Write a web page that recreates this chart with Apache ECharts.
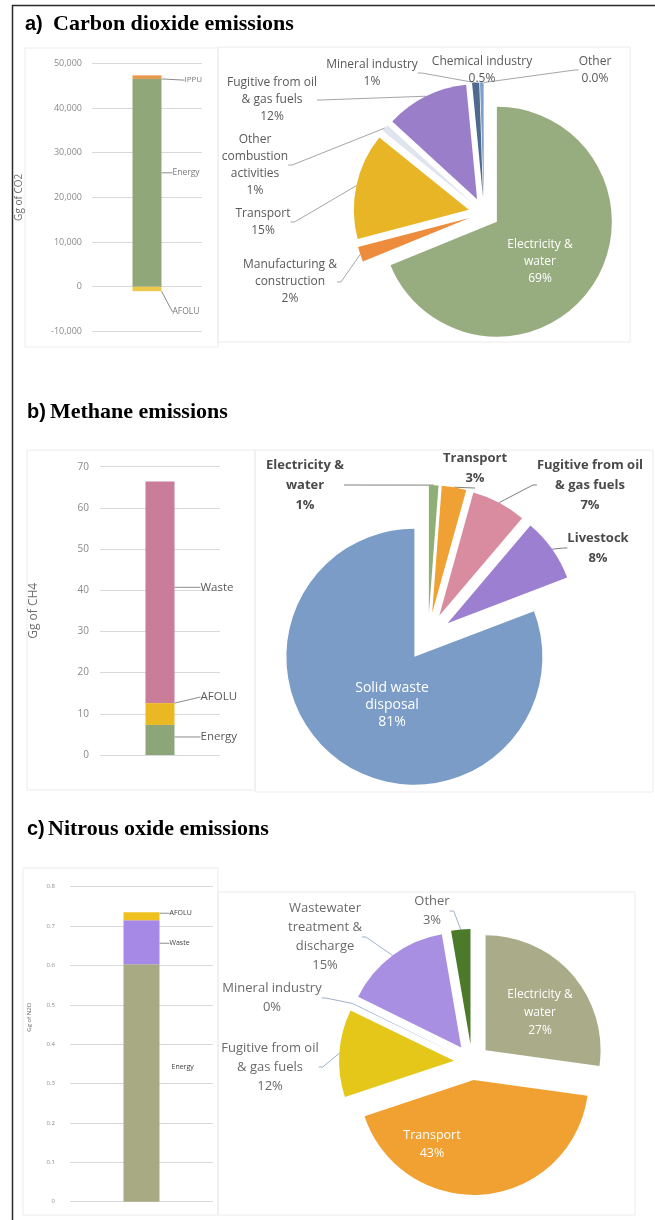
<!DOCTYPE html>
<html>
<head>
<meta charset="utf-8">
<script src="https://cdn.jsdelivr.net/npm/echarts@6/dist/echarts.min.js"></script>
<style>
html,body{margin:0;padding:0;background:#ffffff;}
#chart{width:655px;height:1220px;}
</style>
</head>
<body>
<div id="chart"></div>
<script>
// ---------------- DATA ----------------
// a) Carbon dioxide (Gg of CO2)
const co2Category = ['CO2'];
const co2Energy = [46500];
const co2IPPU = [800];
const co2AFOLU = [-1000];
const co2PieNames = ['Electricity &\nwater', 'Manufacturing &\nconstruction', 'Transport', 'Other\ncombustion\nactivities', 'Fugitive from oil\n& gas fuels', 'Mineral industry', 'Chemical industry', 'Other'];
const co2PieValues = [68.9, 2.1, 14.9, 1.0, 11.7, 1.0, 0.5, 0.02];

// b) Methane (Gg of CH4)
const ch4Category = ['CH4'];
const ch4Energy = [7.3];
const ch4AFOLU = [5.3];
const ch4Waste = [53.8];
const ch4PieNames = ['Electricity &\nwater', 'Transport', 'Fugitive from oil\n& gas fuels', 'Livestock', 'Solid waste\ndisposal'];
const ch4PieValues = [1.2, 3.1, 6.9, 8.0, 80.8];

// c) Nitrous oxide (Gg of N2O)
const n2oCategory = ['N2O'];
const n2oEnergy = [0.603];
const n2oWaste = [0.112];
const n2oAFOLU = [0.02];
const n2oPieNames = ['Electricity &\nwater', 'Transport', 'Fugitive from oil\n& gas fuels', 'Mineral industry', 'Wastewater\ntreatment &\ndischarge', 'Other'];
const n2oPieValues = [27.2, 42.7, 12.3, 0.1, 15.0, 2.7];

// ---------------- STYLES ----------------
const co2PieColors = ['#98ad7f', '#ec8c3c', '#e7b526', '#dfe4ee', '#9b7ec9', '#506a8e', '#7e9fca', '#b0b0b0'];
const ch4PieColors = ['#8fae78', '#f0a133', '#d98c9f', '#9c7fd0', '#7b9cc7'];
const n2oPieColors = ['#a9ab89', '#f0a132', '#e4c718', '#6a8fc4', '#a98fe2', '#4c7a2b'];

const SANS = '"Liberation Sans", Arial, sans-serif';
const SERIF = '"Liberation Serif", "Times New Roman", serif';
const LBL = '"Open Sans", "Liberation Sans", sans-serif';

const chart = echarts.init(document.getElementById('chart'), null, {renderer: 'canvas', width: 655, height: 1220});

function yAxisCfg(grid, min, max, interval, name, fontSize, nameGap, nameSize, fmt, margin, namePad) {
  return {
    type: 'value', gridIndex: grid, min: min, max: max, interval: interval,
    name: name, nameLocation: 'middle', nameRotate: 90, nameGap: nameGap,
    nameTextStyle: {fontFamily: LBL, fontSize: nameSize, color: '#6f6f6f', padding: namePad || 0},
    axisLine: {show: false}, axisTick: {show: false},
    axisLabel: {fontFamily: LBL, fontSize: fontSize, color: '#8a8a8a', margin: margin, formatter: fmt},
    splitLine: {show: true, lineStyle: {color: '#d9d9d9', width: 1}}
  };
}

function barSeries(name, values, color, grid, barWidth, lbl) {
  return {
    type: 'bar', name: name, xAxisIndex: grid, yAxisIndex: grid, stack: 'g' + grid,
    data: values, barWidth: barWidth, itemStyle: {color: color},
    emphasis: {disabled: true},
    label: {show: true, position: 'right', distance: 0, formatter: name,
      fontFamily: LBL, fontSize: lbl.size, color: lbl.color},
    labelLayout: {dx: lbl.dx, dy: lbl.dy},
    labelLine: {show: lbl.line !== false, length2: 0, lineStyle: {color: lbl.lineColor || '#8c8c8c', width: 1}}
  };
}

function fmtPct(decimalsBelowOne) {
  return function (v) {
    if (decimalsBelowOne && v < 1) return v.toFixed(1) + '%';
    return Math.round(v) + '%';
  };
}

// Exploded pie: one series per slice, each slice drawn through the pie layout and
// pushed out along its own bisector (angle derived from the data values).
function explodedPie(names, values, colors, center, radius, offset, inside, pos, st) {
  const f = fmtPct(st.decimals);
  const total = values.reduce(function (a, b) { return a + b; }, 0);
  let cum = 0;
  const out = [];
  values.forEach(function (v, i) {
    const mid = (cum + v / 2) / total * 2 * Math.PI;
    cum += v;
    const c = [center[0] + offset * Math.sin(mid), center[1] - offset * Math.cos(mid)];
    out.push({
      type: 'pie', center: c, radius: [0, radius], startAngle: 90, clockwise: true,
      avoidLabelOverlap: false, silent: true,
      emphasis: {disabled: true},
      itemStyle: {borderWidth: 0},
      label: {show: true, position: 'outside', formatter: function (p) { return p.name + '\n' + f(p.value); },
        fontFamily: LBL, fontSize: st.size, lineHeight: st.lh, color: st.color, fontWeight: st.weight || 'normal', align: 'center'},
      labelLine: {show: true, length: 8, length2: 4, lineStyle: {color: st.lineColor, width: 1}},
      labelLayout: function (p) {
        if (p.dataIndex !== i || !pos[i]) return {};
        return {x: pos[i][0], y: pos[i][1], align: 'center', verticalAlign: 'middle'};
      },
      data: names.map(function (n, j) {
        if (j !== i) {
          return {name: n, value: values[j], itemStyle: {color: 'rgba(0,0,0,0)'}, label: {show: false}, labelLine: {show: false}};
        }
        const d = {name: n, value: values[j], itemStyle: {color: colors[j]}};
        if (inside[j]) {
          d.label = {position: 'inside', color: '#ffffff', fontSize: inside[j].size, lineHeight: inside[j].lh, fontWeight: 'normal'};
          d.labelLine = {show: false};
        }
        return d;
      })
    });
  });
  return out;
}

const commaFmt = function (v) { return v.toLocaleString('en-US'); };

const pieSeriesList = [].concat(
  explodedPie(co2PieNames, co2PieValues, co2PieColors, [484, 213], 115, 15.5,
    [{size: 12, lh: 17}],
    [[540, 262], [290, 282], [263, 222], [255, 165], [272, 100], [372, 73], [482, 70], [595, 70]],
    {size: 12, lh: 17, color: '#595959', lineColor: '#a6a6a6', decimals: true}),
  explodedPie(ch4PieNames, ch4PieValues, ch4PieColors, [428, 637], 128, 24,
    [null, null, null, null, {size: 14, lh: 17}],
    [[305, 485], [475, 468], [590, 485], [598, 548], [392, 705]],
    {size: 13, lh: 20, color: '#4a4a4a', lineColor: '#7f7f7f', weight: 'bold', decimals: false}),
  explodedPie(n2oPieNames, n2oPieValues, n2oPieColors, [472, 1062], 115, 18,
    [{size: 12, lh: 18}, {size: 12.5, lh: 18}],
    [[540, 1013], [432, 1144], [270, 1067], [272, 998], [325, 937], [432, 911]],
    {size: 13, lh: 19, color: '#6a6a6a', lineColor: '#9fb0c8', decimals: false})
);

const option = {
  animation: false,
  backgroundColor: '#ffffff',
  graphic: [
    {type: 'rect', z: 0, shape: {x: 25, y: 48, width: 193, height: 299}, style: {fill: 'none', stroke: '#ececec', lineWidth: 1}},
    {type: 'rect', z: 0, shape: {x: 218, y: 47, width: 412, height: 295}, style: {fill: 'none', stroke: '#ececec', lineWidth: 1}},
    {type: 'rect', z: 0, shape: {x: 27, y: 450, width: 228, height: 340}, style: {fill: 'none', stroke: '#ececec', lineWidth: 1}},
    {type: 'rect', z: 0, shape: {x: 255, y: 450, width: 398, height: 342}, style: {fill: 'none', stroke: '#ececec', lineWidth: 1}},
    {type: 'rect', z: 0, shape: {x: 23, y: 868, width: 195, height: 347}, style: {fill: 'none', stroke: '#ececec', lineWidth: 1}},
    {type: 'rect', z: 0, shape: {x: 218, y: 892, width: 417, height: 323}, style: {fill: 'none', stroke: '#ececec', lineWidth: 1}},
    {type: 'rect', z: 10, shape: {x: 12.5, y: 5.5, width: 720, height: 1300}, style: {fill: 'none', stroke: '#2a2a2a', lineWidth: 1.5}},
    {type: 'text', z: 10, x: 25, y: 24.5, style: {text: 'a)', font: 'bold 20px ' + SANS, fill: '#000', verticalAlign: 'middle'}},
    {type: 'text', z: 10, x: 53, y: 24.5, style: {text: 'Carbon dioxide emissions', font: 'bold 22px ' + SERIF, fill: '#000', verticalAlign: 'middle'}},
    {type: 'text', z: 10, x: 27, y: 412.5, style: {text: 'b)', font: 'bold 20px ' + SANS, fill: '#000', verticalAlign: 'middle'}},
    {type: 'text', z: 10, x: 50, y: 412.5, style: {text: 'Methane emissions', font: 'bold 22px ' + SERIF, fill: '#000', verticalAlign: 'middle'}},
    {type: 'text', z: 10, x: 27, y: 829.5, style: {text: 'c)', font: 'bold 20px ' + SANS, fill: '#000', verticalAlign: 'middle'}},
    {type: 'text', z: 10, x: 48, y: 829.5, style: {text: 'Nitrous oxide emissions', font: 'bold 22px ' + SERIF, fill: '#000', verticalAlign: 'middle'}}
  ],
  grid: [
    {left: 92, top: 63.3, width: 110, height: 268.1, containLabel: false},
    {left: 100, top: 466.7, width: 120, height: 288.3, containLabel: false},
    {left: 70, top: 886.7, width: 143, height: 315, containLabel: false}
  ],
  xAxis: [
    {type: 'category', gridIndex: 0, data: co2Category, show: false},
    {type: 'category', gridIndex: 1, data: ch4Category, show: false},
    {type: 'category', gridIndex: 2, data: n2oCategory, show: false}
  ],
  yAxis: [
    yAxisCfg(0, -10000, 50000, 10000, 'Gg of CO2', 9, 68, 10, commaFmt, 10),
    yAxisCfg(1, 0, 70, 10, 'Gg of CH4', 10, 60, 12, null, 11),
    yAxisCfg(2, 0, 0.8, 0.1, 'Gg of N2O', 6, 38, 6, null, 15, [0, 0, 0, 54])
  ],
  series: [
    barSeries('Energy', co2Energy, '#8fa779', 0, 29, {size: 8.5, color: '#7a7a7a', dx: 11, dy: -10}),
    barSeries('IPPU', co2IPPU, '#e49a4a', 0, 29, {size: 8, color: '#7a7a7a', dx: 23, dy: 3}),
    barSeries('AFOLU', co2AFOLU, '#ecc94b', 0, 29, {size: 8.5, color: '#7a7a7a', dx: 11, dy: 23}),

    barSeries('Energy', ch4Energy, '#8ca67a', 1, 29, {size: 11.5, color: '#595959', dx: 26, dy: -3}),
    barSeries('AFOLU', ch4AFOLU, '#e9b823', 1, 29, {size: 11.5, color: '#595959', dx: 26, dy: -17}),
    barSeries('Waste', ch4Waste, '#c97d99', 1, 29, {size: 11.5, color: '#595959', dx: 26, dy: -5}),

    barSeries('Energy', n2oEnergy, '#a8aa84', 2, 36, {size: 7, color: '#404040', dx: 12, dy: -16, line: false}),
    barSeries('Waste', n2oWaste, '#a688e6', 2, 36, {size: 7, color: '#404040', dx: 10, dy: 1}),
    barSeries('AFOLU', n2oAFOLU, '#efc11f', 2, 36, {size: 7, color: '#404040', dx: 10, dy: -3})
  ].concat(pieSeriesList)
};

chart.setOption(option);
</script>
</body>
</html>
